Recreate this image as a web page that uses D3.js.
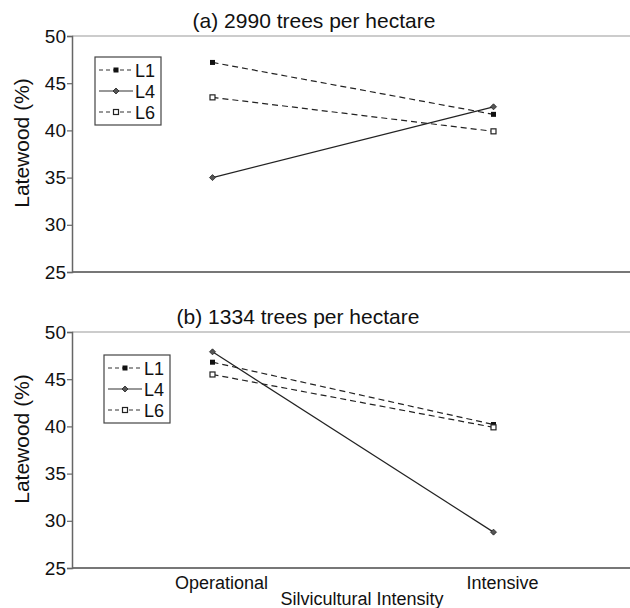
<!DOCTYPE html>
<html>
<head>
<meta charset="utf-8">
<script src="https://cdn.jsdelivr.net/npm/d3@7"></script>
<style>
  body { margin: 0; background: #fff; }
  svg text { font-family: "Liberation Sans", Arial, sans-serif; fill: #111; }
</style>
</head>
<body>
<script>
// Latewood (%) by silvicultural intensity, two planting densities.

var categories = ['Operational', 'Intensive'],
    seriesNames = ['L1', 'L4', 'L6'],
    yTicks = [25, 30, 35, 40, 45, 50],

    // panel (a) 2990 trees per hectare
    panelA_L1 = [47.2, 41.7],
    panelA_L4 = [35.0, 42.5],
    panelA_L6 = [43.5, 39.9],

    // panel (b) 1334 trees per hectare
    panelB_L1 = [46.8, 40.2],
    panelB_L4 = [47.9, 28.8],
    panelB_L6 = [45.5, 39.9];

var width = 630,
    height = 608;

var svg = d3.select('body').append('svg')
  .attr('width', width)
  .attr('height', height);

// shared x scale
var x = d3.scalePoint()
  .domain(categories)
  .range([72, 634])
  .padding(0.5);

var styles = {
  L1: { dash: '6,4', marker: 'filledSquare' },
  L4: { dash: null, marker: 'dot' },
  L6: { dash: '6,4', marker: 'openSquare' }
};

function drawMarker(g, type, cx, cy) {
  if (type === 'filledSquare') {
    g.append('rect').attr('x', cx - 2.5).attr('y', cy - 2.5)
      .attr('width', 5).attr('height', 5).attr('fill', '#111');
  } else if (type === 'openSquare') {
    g.append('rect').attr('x', cx - 2.5).attr('y', cy - 2.5)
      .attr('width', 5).attr('height', 5)
      .attr('fill', '#fff').attr('stroke', '#222').attr('stroke-width', 1.2);
  } else {
    g.append('path')
      .attr('d', 'M' + cx + ',' + (cy - 3) + 'L' + (cx + 3) + ',' + cy +
                 'L' + cx + ',' + (cy + 3) + 'L' + (cx - 3) + ',' + cy + 'Z')
      .attr('fill', '#555').attr('stroke', '#222').attr('stroke-width', 0.8);
  }
}

function panel(top, title, titleX, data, legendPos) {
  var g = svg.append('g');
  var y = d3.scaleLinear().domain([25, 50]).range([top + 236, top]);

  // frame: light top line, heavier bottom line
  g.append('line')
    .attr('x1', 72).attr('x2', width)
    .attr('y1', y(50)).attr('y2', y(50))
    .attr('stroke', '#999').attr('stroke-width', 1);
  g.append('line')
    .attr('x1', 72).attr('x2', width)
    .attr('y1', y(25)).attr('y2', y(25))
    .attr('stroke', '#777').attr('stroke-width', 2);

  var axis = g.append('g')
    .attr('transform', 'translate(72,0)')
    .call(d3.axisLeft(y).tickValues(yTicks).tickSize(5).tickPadding(1));
  axis.select('.domain').attr('stroke', '#666').attr('stroke-width', 1.5);
  axis.selectAll('.tick line').attr('stroke', '#666').attr('stroke-width', 1.2);
  axis.selectAll('.tick text').style('font-size', '19px').attr('fill', '#111');

  g.append('text')
    .attr('transform', 'translate(29,' + (top + 107) + ') rotate(-90)')
    .attr('text-anchor', 'middle')
    .style('font-size', '21px')
    .text('Latewood (%)');

  g.append('text')
    .attr('x', titleX).attr('y', top - 8)
    .attr('text-anchor', 'middle')
    .style('font-size', '21px')
    .text(title);

  var line = d3.line()
    .x(function (d, i) { return x(categories[i]); })
    .y(function (d) { return y(d); });

  seriesNames.forEach(function (name) {
    var vals = data[name];
    g.append('path')
      .datum(vals)
      .attr('d', line)
      .attr('fill', 'none')
      .attr('stroke', '#222')
      .attr('stroke-width', 1.2)
      .attr('stroke-dasharray', styles[name].dash);
  });
  seriesNames.forEach(function (name) {
    data[name].forEach(function (v, i) {
      drawMarker(g, styles[name].marker, x(categories[i]), y(v));
    });
  });

  // legend
  var lg = g.append('g').attr('transform', 'translate(' + legendPos[0] + ',' + legendPos[1] + ')');
  lg.append('rect')
    .attr('width', 66).attr('height', 68)
    .attr('fill', '#fff').attr('stroke', '#444').attr('stroke-width', 1.2);
  seriesNames.forEach(function (name, i) {
    var cy = 13 + i * 21;
    lg.append('line')
      .attr('x1', 4).attr('x2', 38)
      .attr('y1', cy).attr('y2', cy)
      .attr('stroke', '#333').attr('stroke-width', 1.2)
      .attr('stroke-dasharray', styles[name].dash ? '4,3' : null);
    drawMarker(lg, styles[name].marker, 21, cy);
    lg.append('text')
      .attr('x', 40).attr('y', cy + 7)
      .style('font-size', '18px')
      .text(name);
  });

  return y;
}

panel(36, '(a) 2990 trees per hectare', 314,
  { L1: panelA_L1, L4: panelA_L4, L6: panelA_L6 }, [95, 57]);

panel(332, '(b) 1334 trees per hectare', 298,
  { L1: panelB_L1, L4: panelB_L4, L6: panelB_L6 }, [104, 355]);

// category labels and axis title under the lower panel
svg.selectAll('.cat')
  .data(categories)
  .enter().append('text')
  .attr('class', 'cat')
  .attr('x', function (d) { return x(d) + 9; })
  .attr('y', 589)
  .attr('text-anchor', 'middle')
  .style('font-size', '18px')
  .text(function (d) { return d; });

svg.append('text')
  .attr('x', 362).attr('y', 605)
  .attr('text-anchor', 'middle')
  .style('font-size', '18px')
  .text('Silvicultural Intensity');
</script>
</body>
</html>
